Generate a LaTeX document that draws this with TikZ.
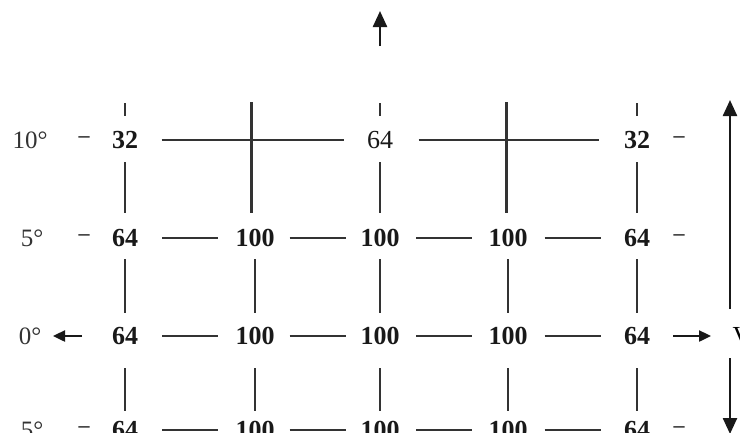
\documentclass[tikz,border=0pt]{standalone}
\usepackage{fontspec}
\setmainfont{Liberation Serif}
\usetikzlibrary{calc,arrows.meta}
\begin{document}
\begin{tikzpicture}[x=1pt,y=-1pt,
  num/.style={font=\fontsize{26}{30}\selectfont\bfseries, inner sep=0pt, text=black!90},
  numreg/.style={font=\fontsize{26}{30}\selectfont, inner sep=0pt, text=black!90},
  deg/.style={font=\fontsize{25}{30}\selectfont, inner sep=0pt, text=black!80},
  hy/.style={font=\fontsize{22}{26}\selectfont\bfseries, inner sep=0pt, text=black!80},
  ln/.style={line width=2.4pt, draw=black!80},
  arr/.style={line width=2.4pt, draw=black!90, -{Triangle[length=16pt,width=14pt]}},
  sarr/.style={line width=2.4pt, draw=black!90, -{Triangle[length=12pt,width=11pt]}}]
\clip (0,0) rectangle (740,432);
\fill[white] (0,0) rectangle (740,432);
% row 1 (10 deg)
\node[deg] (l1) at (30,140) {10°};
\node[hy] (h1a) at (84,140) {–};
\node[num] (r1c1) at (125,140) {32};
\node[numreg] (r1c3) at (380,140) {64};
\node[num] (r1c5) at (637,140) {32};
\node[hy] (h1b) at (679,140) {–};
% row 2 (5 deg)
\node[deg] (l2) at (32,238) {5°};
\node[hy] (h2a) at (84,238) {–};
\node[num] (r2c1) at (125,238) {64};
\node[num] (r2c2) at (255,238) {100};
\node[num] (r2c3) at (380,238) {100};
\node[num] (r2c4) at (508,238) {100};
\node[num] (r2c5) at (637,238) {64};
\node[hy] (h2b) at (679,238) {–};
% row 3 (0 deg)
\node[deg] (l3) at (30,336) {0°};
\node[num] (r3c1) at (125,336) {64};
\node[num] (r3c2) at (255,336) {100};
\node[num] (r3c3) at (380,336) {100};
\node[num] (r3c4) at (508,336) {100};
\node[num] (r3c5) at (637,336) {64};
\node[font=\fontsize{26}{30}\selectfont, inner sep=0pt] (V) at (742,336) {V};
% row 4 (bottom, cut)
\node[deg] (l4) at (32,430) {5°};
\node[hy] (h4a) at (84,430) {–};
\node[num] (r4c1) at (125,430) {64};
\node[num] (r4c2) at (255,430) {100};
\node[num] (r4c3) at (380,430) {100};
\node[num] (r4c4) at (508,430) {100};
\node[num] (r4c5) at (637,430) {64};
\node[hy] (h4b) at (679,430) {–};
% row 1 long lines with crossings
\coordinate (m1) at ($(r1c1)!0.5!(r1c3)$);
\coordinate (m2) at ($(r1c3)!0.5!(r1c5)$);
\draw[ln] (m1) +(-91,0) -- +(91,0);
\draw[ln] (m2) +(-90,0) -- +(90,0);
\draw[ln] ([xshift=-1pt]m1) +(0,-38) -- +(0,73);
\draw[ln] ([xshift=-2pt]m2) +(0,-38) -- +(0,73);
\foreach \c in {r1c1,r1c3,r1c5}{
  \draw[ln] (\c) +(0,-37) -- +(0,-24);
  \draw[ln] (\c) +(0,22) -- +(0,73);
}
% rows 2-4 horizontal dashes
\foreach \r in {2,3,4}{
  \foreach \a/\b in {1/2,2/3,3/4,4/5}{
    \draw[ln] ($(r\r c\a)!0.5!(r\r c\b)$) +(-28,0) -- +(28,0);
  }
}
% verticals
\foreach \c in {1,2,3,4,5}{
  \draw[ln] (r2c\c) +(0,21) -- +(0,75);
  \draw[ln] (r3c\c) +(0,32) -- +(0,75);
}
% arrows
\coordinate (topS) at (380,46);
\coordinate (topT) at (380,11);
\draw[arr] (topS) -- (topT);
\coordinate (lS) at (82,336);
\coordinate (lT) at (53,336);
\draw[sarr] (lS) -- (lT);
\coordinate (rS) at (673,336);
\coordinate (rT) at (711,336);
\draw[sarr] (rS) -- (rT);
\coordinate (vS1) at (730,309);
\coordinate (vT1) at (730,100);
\draw[arr] (vS1) -- (vT1);
\coordinate (vS2) at (730,358);
\coordinate (vT2) at (730,434);
\draw[arr] (vS2) -- (vT2);
\end{tikzpicture}
\end{document}
